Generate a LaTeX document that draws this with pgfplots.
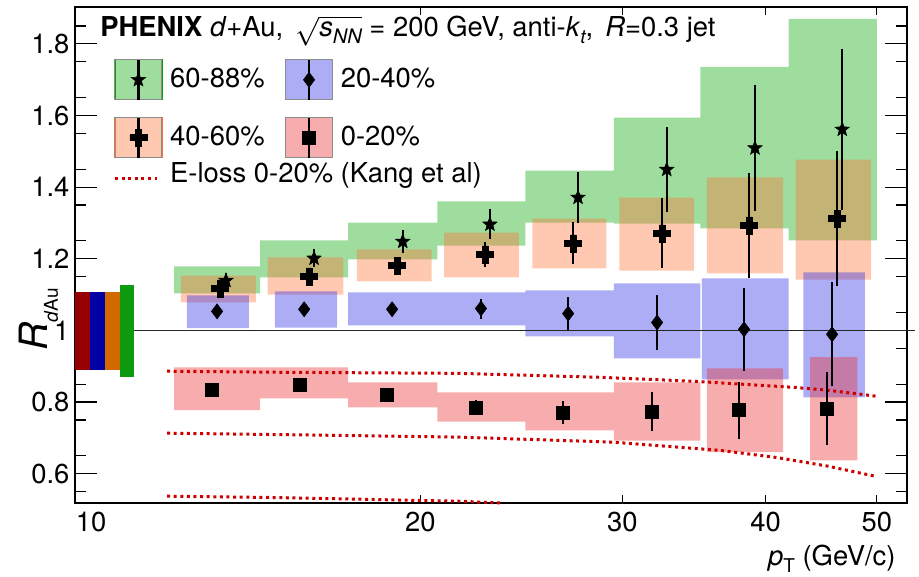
\documentclass[border=0pt]{standalone}
\usepackage{fontspec}
\setmainfont{TeX Gyre Heros}
\usepackage{pgfplots}
\pgfplotsset{compat=1.18}

\definecolor{gbox}{RGB}{0,165,0}
\definecolor{obox}{RGB}{255,110,50}
\definecolor{bbox}{RGB}{40,40,230}
\definecolor{rbox}{RGB}{235,40,40}
\definecolor{nred}{RGB}{150,0,0}
\definecolor{nblue}{RGB}{0,0,165}
\definecolor{norange}{RGB}{210,105,0}
\definecolor{ngreen}{RGB}{15,155,15}
\definecolor{eloss}{RGB}{205,0,0}

\pgfdeclareplotmark{fstar}{%
 \pgfpathmoveto{\pgfpointpolar{90}{\pgfplotmarksize}}%
 \pgfpathlineto{\pgfpointpolar{126}{0.42\pgfplotmarksize}}%
 \pgfpathlineto{\pgfpointpolar{162}{\pgfplotmarksize}}%
 \pgfpathlineto{\pgfpointpolar{198}{0.42\pgfplotmarksize}}%
 \pgfpathlineto{\pgfpointpolar{234}{\pgfplotmarksize}}%
 \pgfpathlineto{\pgfpointpolar{270}{0.42\pgfplotmarksize}}%
 \pgfpathlineto{\pgfpointpolar{306}{\pgfplotmarksize}}%
 \pgfpathlineto{\pgfpointpolar{342}{0.42\pgfplotmarksize}}%
 \pgfpathlineto{\pgfpointpolar{18}{\pgfplotmarksize}}%
 \pgfpathlineto{\pgfpointpolar{54}{0.42\pgfplotmarksize}}%
 \pgfpathclose\pgfusepathqfillstroke}
\pgfdeclareplotmark{fcross}{%
 \pgfpathmoveto{\pgfpoint{0.34\pgfplotmarksize}{\pgfplotmarksize}}%
 \pgfpathlineto{\pgfpoint{0.34\pgfplotmarksize}{0.34\pgfplotmarksize}}%
 \pgfpathlineto{\pgfpoint{\pgfplotmarksize}{0.34\pgfplotmarksize}}%
 \pgfpathlineto{\pgfpoint{\pgfplotmarksize}{-0.34\pgfplotmarksize}}%
 \pgfpathlineto{\pgfpoint{0.34\pgfplotmarksize}{-0.34\pgfplotmarksize}}%
 \pgfpathlineto{\pgfpoint{0.34\pgfplotmarksize}{-\pgfplotmarksize}}%
 \pgfpathlineto{\pgfpoint{-0.34\pgfplotmarksize}{-\pgfplotmarksize}}%
 \pgfpathlineto{\pgfpoint{-0.34\pgfplotmarksize}{-0.34\pgfplotmarksize}}%
 \pgfpathlineto{\pgfpoint{-\pgfplotmarksize}{-0.34\pgfplotmarksize}}%
 \pgfpathlineto{\pgfpoint{-\pgfplotmarksize}{0.34\pgfplotmarksize}}%
 \pgfpathlineto{\pgfpoint{-0.34\pgfplotmarksize}{0.34\pgfplotmarksize}}%
 \pgfpathlineto{\pgfpoint{-0.34\pgfplotmarksize}{\pgfplotmarksize}}%
 \pgfpathclose\pgfusepathqfillstroke}

\newcommand{\legbox}[3]{%
  \fill[#1, fill opacity=0.38] (0pt,-10pt) rectangle (23.5pt,10pt);
  \draw[black!45, line width=0.5pt] (0pt,-10pt) rectangle (23.5pt,10pt);
  \draw[black, line width=1.1pt] (11.75pt,-10pt) -- (11.75pt,10pt);
  \path (0pt,-14.25pt) (0pt,14.25pt);
  \pgftransformshift{\pgfpoint{11.75pt}{0pt}}%
  \pgfsetfillcolor{black}\pgfsetstrokecolor{black}\pgfsetlinewidth{0.3pt}%
  \pgfsetplotmarksize{#3}\pgfuseplotmark{#2}%
}

\begin{document}
\fontsize{13.7}{16.4}\selectfont
\begin{tikzpicture}
\begin{axis}[
 at={(0,0)}, anchor=south west,
 scale only axis, width=416pt, height=248pt,
 xmode=log, xmin=10, xmax=53.13, ymin=0.518, ymax=1.903,
 clip=false,
 axis line style={line width=0.6pt},
 xtick={20,30,40,50}, xticklabels={20,30,40,50},
 extra x ticks={10}, extra x tick labels={10},
 extra x tick style={tick label style={xshift=8pt}},
 xminorticks=false,
 ytick={0.6,0.8,1,1.2,1.4,1.6,1.8},
 yticklabels={0.6,0.8,1,1.2,1.4,1.6,1.8},
 minor ytick={0.55,0.65,0.75,0.85,0.95,1.05,1.15,1.25,1.35,1.45,1.55,1.65,1.75,1.85},
 major tick length=11pt, minor tick length=5.5pt,
 every major x tick/.append style={/pgfplots/major tick length=4pt},
 tick style={line width=0.6pt, black},
 tick label style={/pgf/number format/assume math mode=true},
 yticklabel style={xshift=2pt},
 every axis x label/.style={at={(axis description cs:0.9976,-0.127)}, anchor=base east},
 every axis y label/.style={at={(axis description cs:-0.0325,0.37)}, rotate=90, anchor=base},
 xlabel={\textit{p}\raisebox{-3.5pt}{\fontsize{9.5}{11}\selectfont T} (GeV/c)},
 ylabel={{\fontsize{19.5}{22}\selectfont\itshape R}\raisebox{-5pt}{\fontsize{9.5}{11}\selectfont\textit{d}Au}},
 legend columns=2, legend cell align=left,
 legend style={draw=none, fill=none, inner sep=0pt, at={(axis description cs:0,1)}, anchor=north west, xshift=19pt, yshift=-21.75pt, row sep=0pt,
   /tikz/every odd column/.append style={column sep=1.9pt},
   /tikz/every even column/.append style={column sep=8.2pt}},
]
% ---- systematic boxes: 60-88% (green)
\addplot[forget plot, draw=none, fill=gbox, fill opacity=0.38, unbounded coords=jump] coordinates {
 (12.2,1.103)(14.5,1.103)(14.5,1.1785)(12.2,1.1785)(12.2,nan)
 (14.5,1.148)(17.3,1.148)(17.3,1.251)(14.5,1.251)(14.5,nan)
 (17.3,1.198)(20.7,1.198)(20.7,1.301)(17.3,1.301)(17.3,nan)
 (20.7,1.237)(24.7,1.237)(24.7,1.360)(20.7,1.360)(20.7,nan)
 (24.7,1.301)(29.5,1.301)(29.5,1.446)(24.7,1.446)(24.7,nan)
 (29.5,1.298)(35.1,1.298)(35.1,1.594)(29.5,1.594)(29.5,nan)
 (35.1,1.285)(41.9,1.285)(41.9,1.736)(35.1,1.736)(35.1,nan)
 (41.9,1.251)(50.0,1.251)(50.0,1.870)(41.9,1.870)
};
% ---- 40-60% (orange)
\addplot[forget plot, draw=none, fill=obox, fill opacity=0.38, unbounded coords=jump] coordinates {
 (12.37,1.078)(14.38,1.078)(14.38,1.153)(12.37,1.153)(12.37,nan)
 (14.72,1.100)(17.14,1.100)(17.14,1.204)(14.72,1.204)(14.72,nan)
 (17.61,1.137)(20.46,1.137)(20.46,1.226)(17.61,1.226)(17.61,nan)
 (20.98,1.148)(24.38,1.148)(24.38,1.273)(20.98,1.273)(20.98,nan)
 (25.04,1.173)(29.05,1.173)(29.05,1.312)(25.04,1.312)(25.04,nan)
 (29.83,1.167)(34.65,1.167)(34.65,1.371)(29.83,1.371)(29.83,nan)
 (35.55,1.159)(41.43,1.159)(41.43,1.427)(35.55,1.427)(35.55,nan)
 (42.48,1.142)(49.43,1.142)(49.43,1.477)(42.48,1.477)
};
% ---- 20-40% (blue)
\addplot[forget plot, draw=none, fill=bbox, fill opacity=0.38, unbounded coords=jump] coordinates {
 (12.52,1.006)(14.18,1.006)(14.18,1.098)(12.52,1.098)(12.52,nan)
 (14.94,1.008)(16.92,1.008)(16.92,1.109)(14.94,1.109)(14.94,nan)
 (17.3,1.014)(20.7,1.014)(20.7,1.106)(17.3,1.106)(17.3,nan)
 (20.7,1.014)(24.7,1.014)(24.7,1.106)(20.7,1.106)(20.7,nan)
 (24.7,0.983)(29.5,0.983)(29.5,1.112)(24.7,1.112)(24.7,nan)
 (29.5,0.922)(35.1,0.922)(35.1,1.131)(29.5,1.131)(29.5,nan)
 (35.2,0.863)(41.9,0.863)(41.9,1.145)(35.2,1.145)(35.2,nan)
 (43.14,0.813)(48.81,0.813)(48.81,1.162)(43.14,1.162)
};
% ---- 0-20% (red)
\addplot[forget plot, draw=none, fill=rbox, fill opacity=0.38, unbounded coords=jump] coordinates {
 (12.2,0.777)(14.5,0.777)(14.5,0.897)(12.2,0.897)(12.2,nan)
 (14.5,0.810)(17.3,0.810)(17.3,0.897)(14.5,0.897)(14.5,nan)
 (17.3,0.785)(20.7,0.785)(20.7,0.855)(17.3,0.855)(17.3,nan)
 (20.7,0.745)(24.7,0.745)(24.7,0.827)(20.7,0.827)(20.7,nan)
 (24.7,0.721)(29.5,0.721)(29.5,0.827)(24.7,0.827)(24.7,nan)
 (29.5,0.692)(35.1,0.692)(35.1,0.855)(29.5,0.855)(29.5,nan)
 (35.55,0.660)(41.43,0.660)(41.43,0.894)(35.55,0.894)(35.55,nan)
 (43.73,0.637)(48.1,0.637)(48.1,0.925)(43.73,0.925)
};
% ---- global normalisation boxes
\addplot[forget plot, draw=none, fill=nred] coordinates {(10,0.888)(10.30,0.888)(10.30,1.106)(10,1.106)};
\addplot[forget plot, draw=none, fill=nblue] coordinates {(10.30,0.888)(10.62,0.888)(10.62,1.106)(10.30,1.106)};
\addplot[forget plot, draw=none, fill=norange] coordinates {(10.62,0.888)(10.94,0.888)(10.94,1.106)(10.62,1.106)};
\addplot[forget plot, draw=none, fill=ngreen] coordinates {(10.94,0.869)(11.26,0.869)(11.26,1.128)(10.94,1.128)};
% ---- unity line
\addplot[forget plot, black!85, line width=0.5pt] coordinates {(11.26,1)(53.99,1)};
% ---- E-loss curves
\addplot[forget plot, eloss, line width=1.5pt, dash pattern=on 1.5pt off 1.8pt] coordinates {
 (12.03,0.886)(15.1,0.883)(21.6,0.880)(28.7,0.869)(34.6,0.858)(42.3,0.841)(45.3,0.833)(50.0,0.816)};
\addplot[forget plot, eloss, line width=1.5pt, dash pattern=on 1.5pt off 1.8pt] coordinates {
 (12.03,0.713)(15.1,0.709)(21.6,0.702)(29.4,0.688)(36.5,0.665)(40.9,0.645)(45.3,0.621)(49.8,0.593)};
\addplot[forget plot, eloss, line width=1.5pt, dash pattern=on 1.5pt off 1.8pt] coordinates {
 (12.03,0.537)(15.1,0.533)(21.6,0.523)(23.6,0.518)};
% ---- data points
\addplot[forget plot, only marks, black, mark=fstar, mark size=3.75pt, mark options={fill=black, draw=black, line width=0.3pt},
 error bars/.cd, y dir=both, y explicit, error mark=none, error bar style={line width=1.1pt, black}]
 table[x=x, y=y, y error=e] {
x y e
13.54 1.139 0.020
16.16 1.201 0.025
19.31 1.248 0.032
23.00 1.296 0.042
27.45 1.371 0.070
32.80 1.449 0.118
39.16 1.509 0.176
46.65 1.561 0.226
};
\addplot[forget plot, only marks, black, mark=fcross, mark size=4.25pt, mark options={fill=black, draw=black, line width=0.3pt},
 error bars/.cd, y dir=both, y explicit, error mark=none, error bar style={line width=1.1pt, black}]
 table[x=x, y=y, y error=e] {
x y e
13.38 1.117 0.015
16.00 1.151 0.020
19.09 1.181 0.025
22.78 1.212 0.035
27.18 1.243 0.059
32.49 1.271 0.098
38.69 1.293 0.147
46.18 1.312 0.188
};
\addplot[forget plot, only marks, black, mark=diamond*, mark size=3.75pt, mark options={fill=black, draw=black, line width=0.3pt},
 error bars/.cd, y dir=both, y explicit, error mark=none, error bar style={line width=1.1pt, black}]
 table[x=x, y=y, y error=e] {
x y e
13.30 1.053 0.010
15.84 1.059 0.012
18.90 1.059 0.015
22.59 1.061 0.028
26.91 1.047 0.046
32.17 1.022 0.078
38.31 1.003 0.116
45.71 0.989 0.145
};
\addplot[forget plot, only marks, black, mark=square*, mark size=3.25pt, mark options={fill=black, draw=black, line width=0.3pt},
 error bars/.cd, y dir=both, y explicit, error mark=none, error bar style={line width=1.1pt, black}]
 table[x=x, y=y, y error=e] {
x y e
13.16 0.835 0.010
15.71 0.849 0.010
18.71 0.819 0.012
22.37 0.785 0.020
26.64 0.771 0.033
31.85 0.774 0.054
37.93 0.777 0.080
45.26 0.782 0.102
};
% ---- legend
\addlegendimage{legend image code/.code={\legbox{gbox}{fstar}{3.75pt}}}
\addlegendentry{60-88\%}
\addlegendimage{legend image code/.code={\legbox{bbox}{diamond*}{3.75pt}}}
\addlegendentry{20-40\%}
\addlegendimage{legend image code/.code={\legbox{obox}{fcross}{4.25pt}}}
\addlegendentry{40-60\%}
\addlegendimage{legend image code/.code={\legbox{rbox}{square*}{3.25pt}}}
\addlegendentry{0-20\%}
\addlegendimage{legend image code/.code={\draw[eloss, line width=1.5pt, dash pattern=on 1.5pt off 1.8pt] (0pt,0pt) -- (21pt,0pt); \path (23.5pt,0pt);}}
\addlegendentry{\raisebox{0pt}[6pt][0pt]{\makebox[0pt][l]{E-loss 0-20\% (Kang et al)}}}
% ---- title
\node[anchor=base west, inner sep=0pt] at (axis description cs:0.030,0.9405)
 {{\bfseries PHENIX} \textit{d}+Au,\hspace{6pt}$\sqrt{\hbox{\itshape s\raisebox{-3.5pt}{\fontsize{10}{12}\selectfont\itshape NN}}}$ = 200 GeV, anti-\textit{k}\raisebox{-3.5pt}{\fontsize{9.5}{11}\selectfont\itshape t},\hspace{6pt}\textit{R}=0.3 jet};
\end{axis}
\pgfresetboundingbox
\useasboundingbox (-37.5pt,-37pt) rectangle (422pt,251.5pt);
\end{tikzpicture}
\end{document}
